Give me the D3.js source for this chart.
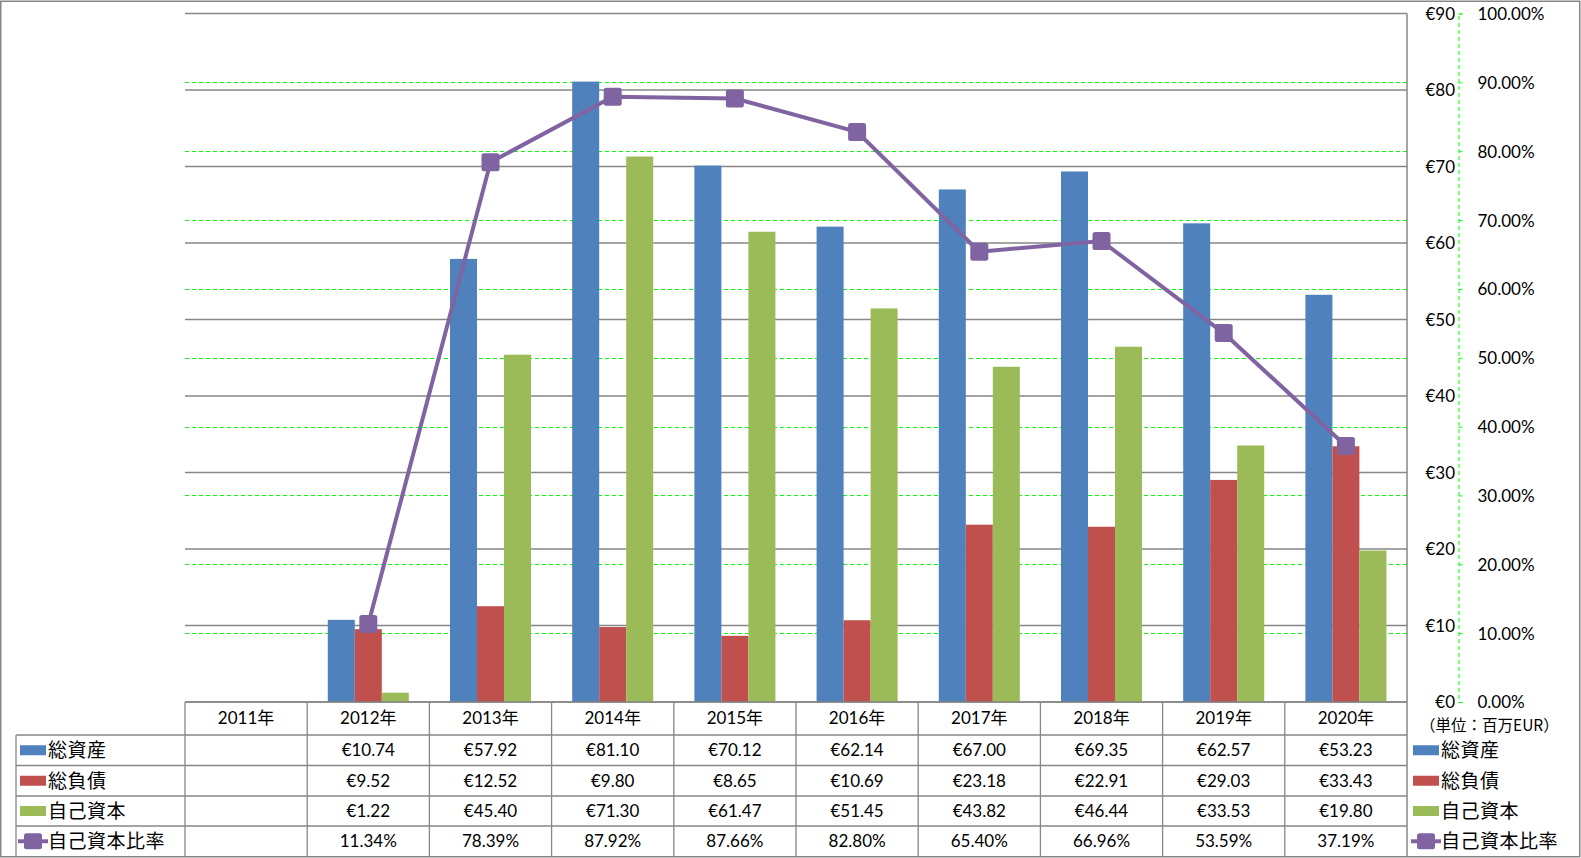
<!DOCTYPE html>
<html><head><meta charset="utf-8">
<script src="https://cdn.jsdelivr.net/npm/d3@7"></script>
<style>
html,body{margin:0;padding:0;background:#fff;}
svg text{font-family:Lato,"Noto Sans CJK JP",sans-serif;fill:#000;}
.jp{font-family:"Noto Sans CJK JP",sans-serif;}
</style></head><body>
<svg id="c" width="1581" height="858"></svg>
<script>
const categories = ["2011年","2012年","2013年","2014年","2015年","2016年","2017年","2018年","2019年","2020年"];
const seriesNames = ["総資産","総負債","自己資本"];
const totalAssets = [null,10.74,57.92,81.10,70.12,62.14,67.00,69.35,62.57,53.23];
const totalLiab   = [null,9.52,12.52,9.80,8.65,10.69,23.18,22.91,29.03,33.43];
const equity      = [null,1.22,45.40,71.30,61.47,51.45,43.82,46.44,33.53,19.80];
const equityRatio = [null,11.34,78.39,87.92,87.66,82.80,65.40,66.96,53.59,37.19];
const ratioName = "自己資本比率";
const yTicks = [0,10,20,30,40,50,60,70,80,90];
const y2Ticks = [0,10,20,30,40,50,60,70,80,90,100];
const unitLabel = "（単位：百万EUR）";

const colors = ["#4F81BD","#C0504D","#9BBB59"];
const purple = "#8064A2";
const grey = "#868686";
const gridGreen = "#00ff00";

const svg = d3.select("#c");
const L = 185, R = 1407, T = 13.5, B = 702;
const rowY = [702, 735, 765.5, 796, 826, 856.5];

const x = d3.scaleBand().domain(categories).range([L, R]).paddingInner(0).paddingOuter(0);
const y = d3.scaleLinear().domain([0, 90]).range([B, T]);
const y2 = d3.scaleLinear().domain([0, 100]).range([B, T]);
const bw = x.bandwidth();
const groupW = bw * 0.663;
const x1 = d3.scaleBand().domain(seriesNames).range([(bw - groupW) / 2, (bw + groupW) / 2]);
const crisp = v => Math.round(v) + 0.5;

// outer border
svg.append("rect").attr("x", 0.75).attr("y", 1.25).attr("width", 1579).attr("height", 855.5)
  .attr("fill", "none").attr("stroke", grey).attr("stroke-width", 1.5);

// primary gridlines
svg.append("g").selectAll("line").data(yTicks).join("line")
  .attr("x1", L).attr("x2", R).attr("y1", d => y(d)).attr("y2", d => y(d))
  .attr("stroke", grey).attr("stroke-width", 1.5);

// secondary gridlines (green dashed)
svg.append("g").selectAll("line").data(y2Ticks.filter(d => d > 0 && d < 100)).join("line")
  .attr("x1", L).attr("x2", R).attr("y1", d => crisp(y2(d))).attr("y2", d => crisp(y2(d)))
  .attr("stroke", gridGreen).attr("stroke-width", 1).attr("stroke-dasharray", "4,3");

// bars
const seriesData = [totalAssets, totalLiab, equity];
seriesData.forEach((arr, si) => {
  svg.append("g").selectAll("rect").data(categories.map((c, i) => ({c, v: arr[i]})).filter(d => d.v != null)).join("rect")
    .attr("x", d => x(d.c) + x1(seriesNames[si]))
    .attr("width", x1.bandwidth())
    .attr("y", d => y(d.v))
    .attr("height", d => y(0) - y(d.v))
    .attr("fill", colors[si]);
});

// right plot border
svg.append("line").attr("x1", R).attr("x2", R).attr("y1", T).attr("y2", 856.5).attr("stroke", grey).attr("stroke-width", 1.5);

// line series
const pts = categories.map((c, i) => ({c, v: equityRatio[i]})).filter(d => d.v != null);
const lineGen = d3.line().x(d => x(d.c) + bw / 2).y(d => y2(d.v));
svg.append("path").datum(pts).attr("d", lineGen).attr("fill", "none")
  .attr("stroke", purple).attr("stroke-width", 4).attr("stroke-linejoin", "round");
svg.append("g").selectAll("rect").data(pts).join("rect")
  .attr("x", d => x(d.c) + bw / 2 - 9).attr("y", d => y2(d.v) - 9)
  .attr("width", 18).attr("height", 18).attr("rx", 2.5)
  .attr("fill", purple);

// primary axis labels (right side)
const axisY = d3.axisLeft(y).tickValues(yTicks).tickFormat(d => "€" + d).tickSize(0).tickPadding(0);
const gY = svg.append("g").attr("transform", "translate(1455,0)").call(axisY);
gY.select(".domain").remove();
gY.selectAll("text").attr("font-size", 17).attr("font-family", "Lato").attr("dy", "0.35em");

// secondary axis (green dashed)
const axisY2 = d3.axisRight(y2).tickValues(y2Ticks).tickFormat(d => d.toFixed(2) + "%").tickSize(4).tickPadding(15);
const gY2 = svg.append("g").attr("transform", "translate(1458.5,0)").call(axisY2);
gY2.select(".domain").attr("stroke", gridGreen).attr("stroke-dasharray", "4,3");
gY2.selectAll(".tick line").attr("stroke", gridGreen);
gY2.selectAll("text").attr("font-size", 17).attr("font-family", "Lato").attr("dy", "0.35em");

// table grid
const tg = svg.append("g").attr("stroke", grey).attr("stroke-width", 1.3);
tg.append("line").attr("x1", L).attr("x2", R).attr("y1", rowY[0]).attr("y2", rowY[0]).attr("stroke-width", 1.5);
rowY.slice(1, 5).forEach(yy => tg.append("line").attr("x1", 16).attr("x2", R).attr("y1", yy).attr("y2", yy));
tg.append("line").attr("x1", 16).attr("x2", 16).attr("y1", rowY[1]).attr("y2", 856.5);
categories.forEach(c => tg.append("line").attr("x1", x(c)).attr("x2", x(c)).attr("y1", rowY[0]).attr("y2", 856.5));

// header row
svg.append("g").selectAll("text").data(categories).join("text")
  .attr("x", d => x(d) + bw / 2).attr("y", (rowY[0] + rowY[1]) / 2).attr("dy", "0.35em")
  .attr("text-anchor", "middle").attr("font-size", 17).text(d => d);

// table values
const rows = [
  {name: seriesNames[0], vals: totalAssets, fmt: v => "€" + v.toFixed(2), color: colors[0]},
  {name: seriesNames[1], vals: totalLiab, fmt: v => "€" + v.toFixed(2), color: colors[1]},
  {name: seriesNames[2], vals: equity, fmt: v => "€" + v.toFixed(2), color: colors[2]},
  {name: ratioName, vals: equityRatio, fmt: v => v.toFixed(2) + "%", color: purple, line: true}
];
rows.forEach((r, ri) => {
  const cy = (rowY[ri + 1] + rowY[ri + 2]) / 2;
  svg.append("g").selectAll("text").data(categories.map((c, i) => ({c, v: r.vals[i]})).filter(d => d.v != null)).join("text")
    .attr("x", d => x(d.c) + bw / 2).attr("y", cy).attr("dy", "0.35em")
    .attr("text-anchor", "middle").attr("font-size", 17).text(d => r.fmt(d.v));
  [20, 1413].forEach(lx => {
    if (r.line) {
      svg.append("line").attr("x1", lx - 2).attr("x2", lx + 28).attr("y1", cy).attr("y2", cy)
        .attr("stroke", purple).attr("stroke-width", 4);
      svg.append("rect").attr("x", lx + 4).attr("y", cy - 8).attr("width", 18).attr("height", 16).attr("rx", 2.5).attr("fill", purple);
    } else {
      svg.append("rect").attr("x", lx).attr("y", cy - 5).attr("width", 26).attr("height", 10).attr("fill", r.color);
    }
    svg.append("text").attr("class", "jp").attr("x", lx + 28).attr("y", cy).attr("dy", "0.36em")
      .attr("font-size", 19).attr("letter-spacing", 0.5).text(r.name);
  });
});

// unit label
svg.append("text").attr("class", "jp").attr("x", 1420).attr("y", 726).attr("dy", "0.35em")
  .attr("font-size", 15.5).text(unitLabel);
</script>
</body></html>
